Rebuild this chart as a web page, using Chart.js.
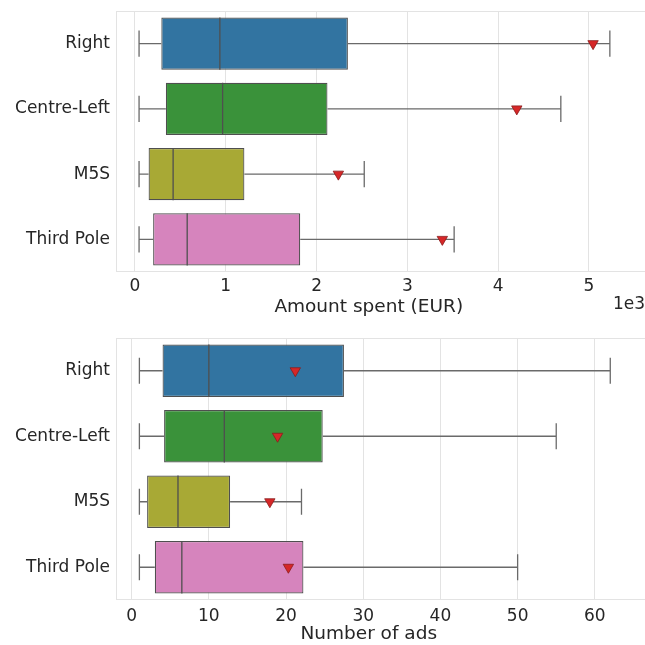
<!DOCTYPE html>
<html>
<head>
<meta charset="utf-8">
<script src="https://cdn.jsdelivr.net/npm/chart.js@4"></script>
<style>
  html, body { margin: 0; padding: 0; background: #fff; overflow: hidden; }
  canvas { display: block; }
</style>
</head>
<body>
<canvas id="spentChart" width="645" height="322"></canvas>
<canvas id="adsChart" width="645" height="323"></canvas>
<script>
// Categories
const parties = ['Right', 'Centre-Left', 'M5S', 'Third Pole'];

// Amount spent (EUR): whisker low, Q1, median, Q3, whisker high, mean
const spentLow = [45, 45, 45, 45];
const spentQ1 = [290, 340, 150, 200];
const spentMedian = [935, 965, 420, 575];
const spentQ3 = [2345, 2120, 1205, 1820];
const spentHigh = [5230, 4690, 2525, 3515];
const spentMean = [5045, 4205, 2240, 3385];
const spentTicks = [0, 1000, 2000, 3000, 4000, 5000];

// Number of ads
const adsLow = [1, 1, 1, 1];
const adsQ1 = [4, 4.2, 2, 3];
const adsMedian = [10, 12, 6, 6.5];
const adsQ3 = [27.5, 24.75, 12.75, 22.25];
const adsHigh = [62, 55, 22, 50];
const adsMean = [21.2, 18.9, 17.9, 20.3];
const adsTicks = [0, 10, 20, 30, 40, 50, 60];

const boxColors = ['#3274a1', '#3a923a', '#a8a935', '#d684bd'];
const lineColor = '#4f4f4f';
const textColor = '#262626';
const gridColor = '#e3e3e3';
const font = 'DejaVu Sans';

// kill the label overflow padding Chart.js adds around the plot
function noPadding(scale) {
    scale.paddingTop = 0;
    scale.paddingBottom = 0;
    scale.paddingLeft = 0;
    scale.paddingRight = 0;
}

// whiskers, caps and medians, drawn right after the boxes
const boxPlugin = {
    id: 'boxParts',
    beforeDatasetsDraw(chart) {
        const { ctx, chartArea } = chart;
        ctx.save();
        ctx.strokeStyle = gridColor;
        ctx.lineWidth = 1;
        ctx.strokeRect(chartArea.left + 0.5, chartArea.top + 0.5,
            chartArea.right - chartArea.left, chartArea.bottom - chartArea.top - 1);
        ctx.restore();
    },
    afterDatasetDraw(chart, args) {
        if (args.index !== 0) return;
        const st = chart.options.plugins.boxParts;
        const { ctx } = chart;
        const xs = chart.scales.x;
        const bars = args.meta.data;
        ctx.save();
        bars.forEach((bar, i) => {
            const y = bar.y;
            const half = bar.height / 4;
            const xLow = xs.getPixelForValue(st.low[i]);
            const xQ1 = xs.getPixelForValue(st.q1[i]);
            const xQ3 = xs.getPixelForValue(st.q3[i]);
            const xHigh = xs.getPixelForValue(st.high[i]);
            const xMed = xs.getPixelForValue(st.median[i]);
            ctx.strokeStyle = '#6a6a6a';
            ctx.lineWidth = 1.3;
            ctx.beginPath();
            ctx.moveTo(xLow, y); ctx.lineTo(xQ1, y);
            ctx.moveTo(xQ3, y); ctx.lineTo(xHigh, y);
            ctx.moveTo(xLow, y - half); ctx.lineTo(xLow, y + half);
            ctx.moveTo(xHigh, y - half); ctx.lineTo(xHigh, y + half);
            ctx.stroke();
            ctx.strokeStyle = lineColor;
            ctx.lineWidth = 1.3;
            ctx.beginPath();
            ctx.moveTo(xMed, y - bar.height / 2); ctx.lineTo(xMed, y + bar.height / 2);
            ctx.stroke();
        });
        ctx.restore();
    },
    afterDraw(chart) {
        const st = chart.options.plugins.boxParts;
        if (!st.offsetText) return;
        const { ctx, chartArea } = chart;
        ctx.save();
        ctx.fillStyle = textColor;
        ctx.font = '17px "' + font + '"';
        ctx.textAlign = 'right';
        ctx.textBaseline = 'middle';
        ctx.fillText(st.offsetText, chartArea.right, 305);
        ctx.restore();
    }
};

function makeBoxChart(id, low, q1, median, q3, high, mean, ticks, xMin, xMax, title, opts) {
    const ctx = document.getElementById(id).getContext('2d');
    return new Chart(ctx, {
        type: 'bar',
        data: {
            labels: parties,
            datasets: [{
                data: parties.map((p, i) => [q1[i], q3[i]]),
                backgroundColor: boxColors,
                borderColor: lineColor,
                borderWidth: 1.2,
                borderSkipped: false,
                barPercentage: 0.8,
                categoryPercentage: 1,
                order: 1
            }, {
                type: 'line',
                indexAxis: 'y',
                data: mean,
                showLine: false,
                pointStyle: 'triangle',
                rotation: 180,
                radius: 6,
                backgroundColor: '#d62728',
                borderColor: '#8a1c1c',
                borderWidth: 0.8,
                order: -1
            }]
        },
        options: {
            indexAxis: 'y',
            responsive: false,
            animation: false,
            devicePixelRatio: 1,
            layout: { autoPadding: false, padding: { top: opts.padTop, left: 0, right: 0, bottom: 0 } },
            plugins: {
                legend: { display: false },
                tooltip: { enabled: false },
                boxParts: { low, q1, median, q3, high, offsetText: opts.offsetText }
            },
            scales: {
                x: {
                    type: 'linear',
                    min: xMin,
                    max: xMax,
                    afterBuildTicks: (scale) => { scale.ticks = ticks.map(v => ({ value: v })); },
                    afterFit: (scale) => { noPadding(scale); scale.height = opts.xHeight; },
                    grid: { color: gridColor, lineWidth: 1, drawTicks: false },
                    border: { display: false },
                    ticks: {
                        color: textColor,
                        font: { family: font, size: 17 },
                        padding: opts.tickPad,
                        maxRotation: 0,
                        callback: (v) => String(v / opts.tickDiv)
                    },
                    title: {
                        display: true,
                        // trailing spaces nudge the centred title left, as in the original figure
                        text: title + '    ',
                        color: textColor,
                        font: { family: font, size: 18.5 },
                        padding: { top: 0, bottom: opts.titlePad }
                    }
                },
                y: {
                    afterFit: (scale) => { noPadding(scale); scale.width = 116; },
                    grid: { display: false, drawTicks: false },
                    border: { display: false },
                    ticks: {
                        color: textColor,
                        font: { family: font, size: 17 },
                        padding: 6
                    }
                }
            }
        },
        plugins: [boxPlugin]
    });
}

makeBoxChart('spentChart', spentLow, spentQ1, spentMedian, spentQ3, spentHigh, spentMean,
    spentTicks, -209, 5617, 'Amount spent (EUR)',
    { padTop: 11, xHeight: 50, titlePad: 4, tickPad: 4, tickDiv: 1000, offsetText: '1e3' });

makeBoxChart('adsChart', adsLow, adsQ1, adsMedian, adsQ3, adsHigh, adsMean,
    adsTicks, -2.03, 66.5, 'Number of ads',
    { padTop: 16, xHeight: 45, titlePad: 0, tickPad: 6, tickDiv: 1, offsetText: null });
</script>
</body>
</html>
